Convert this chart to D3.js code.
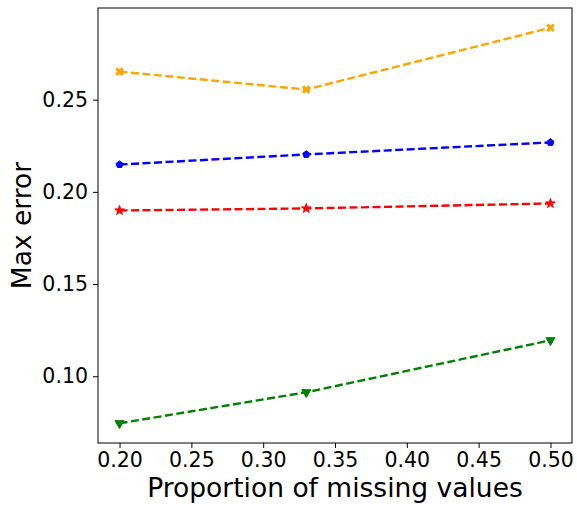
<!DOCTYPE html>
<html>
<head>
<meta charset="utf-8">
<script src="https://cdn.jsdelivr.net/npm/d3@7"></script>
<style>
  body { margin: 0; background: #fff; }
  text { font-family: "DejaVu Sans", sans-serif; }
</style>
</head>
<body>
<div id="chart"></div>
<script>
// Data
const proportions = [0.20, 0.33, 0.50];
const orangeSeries = [0.2652, 0.2555, 0.2890];
const blueSeries = [0.2148, 0.2203, 0.2268];
const redSeries = [0.1899, 0.1910, 0.1937];
const greenSeries = [0.0745, 0.0913, 0.1195];
const xTicks = [0.20, 0.25, 0.30, 0.35, 0.40, 0.45, 0.50];
const yTicks = [0.10, 0.15, 0.20, 0.25];

const series = [
    { values: orangeSeries, color: 'orange', marker: 'x' },
    { values: blueSeries, color: 'blue', marker: 'pentagon' },
    { values: redSeries, color: 'red', marker: 'star' },
    { values: greenSeries, color: 'green', marker: 'tridown' }
];

const width = 577;
const height = 507;
const margin = { top: 8, right: 5, bottom: 64, left: 98 };

const svg = d3.select('#chart')
    .append('svg')
    .attr('width', width)
    .attr('height', height);

const x = d3.scaleLinear()
    .domain([0.185, 0.515])
    .range([margin.left, width - margin.right]);

const y = d3.scaleLinear()
    .domain([0.0638, 0.2997])
    .range([height - margin.bottom, margin.top]);

// Axes
const xAxis = svg.append('g')
    .attr('transform', `translate(0,${height - margin.bottom})`)
    .call(d3.axisBottom(x).tickValues(xTicks).tickFormat(d3.format('.2f')).tickSize(5).tickPadding(4));

const yAxis = svg.append('g')
    .attr('transform', `translate(${margin.left},0)`)
    .call(d3.axisLeft(y).tickValues(yTicks).tickFormat(d3.format('.2f')).tickSize(5).tickPadding(5));

[xAxis, yAxis].forEach(a => {
    a.select('.domain').remove();
    a.selectAll('text').attr('font-size', 20.5).attr('fill', '#000').attr('font-family', '"DejaVu Sans", sans-serif');
    a.selectAll('line').attr('stroke', '#000').attr('stroke-width', 1);
});

// Frame
svg.append('rect')
    .attr('x', margin.left)
    .attr('y', margin.top)
    .attr('width', width - margin.left - margin.right)
    .attr('height', height - margin.top - margin.bottom)
    .attr('fill', 'none')
    .attr('stroke', '#000')
    .attr('stroke-width', 1);

// Lines
const line = d3.line()
    .x((d, i) => x(proportions[i]))
    .y(d => y(d));

// Regular pentagon symbol, point up
const symbolPentagon = {
    draw(context, size) {
        const r = Math.sqrt(size / 2.378);
        for (let k = 0; k < 5; k++) {
            const a = -Math.PI / 2 + k * 2 * Math.PI / 5;
            const px = r * Math.cos(a), py = r * Math.sin(a);
            if (k === 0) context.moveTo(px, py); else context.lineTo(px, py);
        }
        context.closePath();
    }
};

const symbolFor = {
    x: d3.symbolX,
    pentagon: symbolPentagon,
    star: d3.symbolStar,
    tridown: d3.symbolTriangle
};
const symbolSize = { x: 30, pentagon: 32, star: 28, tridown: 36 };

series.forEach(s => {
    svg.append('path')
        .datum(s.values)
        .attr('d', line)
        .attr('fill', 'none')
        .attr('stroke', s.color)
        .attr('stroke-width', 2.4)
        .attr('stroke-dasharray', '8,3.5');

    svg.append('g')
        .selectAll('path')
        .data(s.values)
        .enter()
        .append('path')
        .attr('d', d3.symbol().type(symbolFor[s.marker]).size(symbolSize[s.marker]))
        .attr('transform', (d, i) => `translate(${x(proportions[i])},${y(d)})` + (s.marker === 'tridown' ? ' rotate(180)' : ''))
        .attr('fill', s.color)
        .attr('stroke', s.color)
        .attr('stroke-width', s.marker === 'x' ? 3 : 1);
});

// Axis labels
svg.append('text')
    .attr('x', (margin.left + width - margin.right) / 2)
    .attr('y', 497)
    .attr('text-anchor', 'middle')
    .attr('font-size', 26.5)
    .text('Proportion of missing values');

svg.append('text')
    .attr('transform', `translate(31,${(margin.top + height - margin.bottom) / 2}) rotate(-90)`)
    .attr('text-anchor', 'middle')
    .attr('font-size', 26.5)
    .text('Max error');
</script>
</body>
</html>
